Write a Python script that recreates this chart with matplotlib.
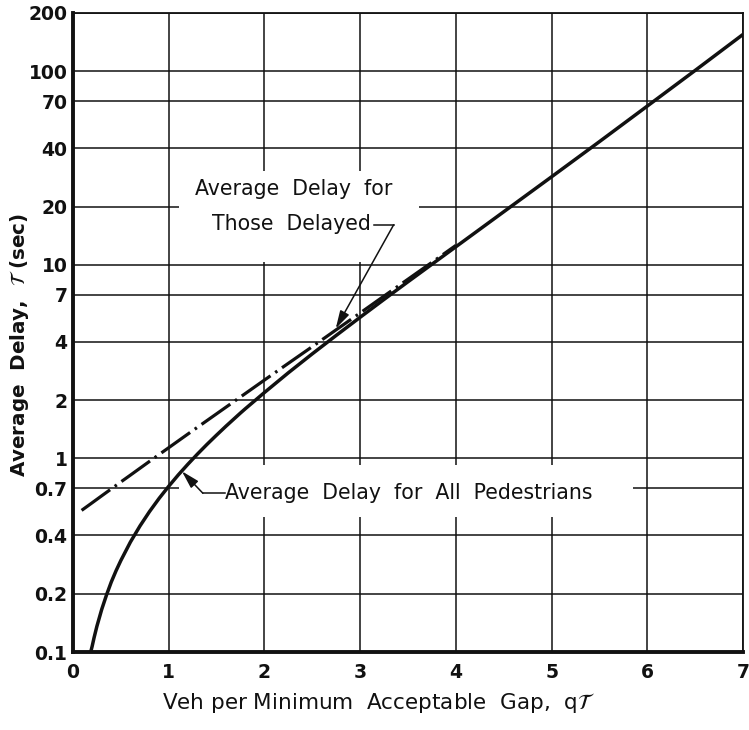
import matplotlib
matplotlib.use("Agg")
import matplotlib.pyplot as plt
from matplotlib.patches import Rectangle

# ---- data ----
x_all = [0.185, 0.2, 0.22, 0.25, 0.3, 0.35, 0.4, 0.45, 0.5, 0.6, 0.7, 0.8, 0.9,
         1.0, 1.1, 1.2, 1.3, 1.4, 1.5, 1.6, 1.75, 1.8, 2.0, 2.25, 2.5, 2.75,
         3.0, 3.25, 3.5, 3.75, 4.0, 4.5, 5.0, 5.5, 6.0, 6.5, 7.0]
y_all = [0.100, 0.107, 0.1185, 0.136, 0.166, 0.197, 0.230, 0.263, 0.297, 0.370,
         0.448, 0.532, 0.622, 0.718, 0.822, 0.933, 1.053, 1.182, 1.32, 1.47,
         1.717, 1.805, 2.19, 2.77, 3.47, 4.32, 5.36, 6.63, 8.18, 10.07, 12.4,
         18.8, 28.5, 43.3, 66.1, 101, 155]

x_delayed = [0.09, 0.2, 0.3, 0.4, 0.5, 0.6, 0.7, 0.8, 0.9, 1.0, 1.1, 1.2, 1.3,
             1.4, 1.5, 1.75, 2.0, 2.25, 2.5, 2.75, 3.0, 3.25, 3.5, 3.75, 4.0]
y_delayed = [0.539, 0.590, 0.641, 0.696, 0.756, 0.820, 0.890, 0.966, 1.048,
             1.136, 1.232, 1.336, 1.448, 1.569, 1.70, 2.078, 2.54, 3.10, 3.78,
             4.62, 5.64, 6.90, 8.43, 10.3, 12.6]

x_ticks = [0, 1, 2, 3, 4, 5, 6, 7]
y_ticks = [0.1, 0.2, 0.4, 0.7, 1, 2, 4, 7, 10, 20, 40, 70, 100, 200]
y_ticklabels = ["0.1", "0.2", "0.4", "0.7", "1", "2", "4", "7", "10", "20",
                "40", "70", "100", "200"]

# ---- figure ----
fig = plt.figure(figsize=(7.49, 7.30), dpi=100)
ax = fig.add_axes([73/749, 1-652/730, (743-73)/749, (652-13)/730])
ax.set_yscale("log")
ax.set_xlim(0, 7)
ax.set_ylim(0.1, 200)

ink = "#111111"
for xv in x_ticks:
    ax.axvline(xv, color=ink, lw=1.1, zorder=1)
for yv in y_ticks:
    ax.axhline(yv, color=ink, lw=1.1, zorder=1)

# white masks behind labels
ax.add_patch(Rectangle((1.106, 10.3), 3.61-1.106, 30.6-10.3, facecolor="white",
                       edgecolor="none", zorder=2))
ax.add_patch(Rectangle((1.106, 0.497), 5.85-1.106, 0.921-0.497, facecolor="white",
                       edgecolor="none", zorder=2))

ax.plot(x_all, y_all, color=ink, lw=2.5, zorder=4, solid_capstyle="butt",
        solid_joinstyle="round")
ax.plot(x_delayed, y_delayed, color=ink, lw=2.3, zorder=4,
        dashes=(11, 1.8, 0.8, 1.8), dash_capstyle="butt")

ax.set_xticks(x_ticks)
ax.set_xticklabels([str(v) for v in x_ticks])
ax.set_yticks(y_ticks)
ax.set_yticklabels(y_ticklabels)
ax.minorticks_off()
ax.tick_params(axis="both", length=0, labelsize=13.5, colors=ink)
ax.tick_params(axis="y", pad=4)
ax.tick_params(axis="x", pad=8)
for lab in ax.get_xticklabels() + ax.get_yticklabels():
    lab.set_fontweight("bold")

for s in ["left", "bottom"]:
    ax.spines[s].set_linewidth(2.8)
    ax.spines[s].set_color(ink)
for s in ["top", "right"]:
    ax.spines[s].set_linewidth(1.3)
    ax.spines[s].set_color(ink)

# labels
fs_ann = 14.8
ax.text(2.31, 24.7, "Average  Delay  for", ha="center", va="center",
        fontsize=fs_ann, color=ink, zorder=5)
ax.text(2.28, 16.3, "Those  Delayed", ha="center", va="center",
        fontsize=fs_ann, color=ink, zorder=5)
ax.plot([3.14, 3.35], [16.1, 16.1], color=ink, lw=1.1, zorder=5)
ax.annotate("", xy=(2.745, 4.69), xytext=(3.35, 16.1),
            arrowprops=dict(arrowstyle="-|>,head_length=0.9,head_width=0.25",
                            color=ink, lw=1.1,
                            mutation_scale=12, shrinkA=0, shrinkB=0), zorder=5)

ax.text(1.59, 0.661, "Average  Delay  for  All  Pedestrians", ha="left",
        va="center", fontsize=fs_ann, color=ink, zorder=5)
ax.plot([1.59, 1.357], [0.661, 0.661], color=ink, lw=1.1, zorder=5)
ax.annotate("", xy=(1.138, 0.858), xytext=(1.357, 0.661),
            arrowprops=dict(arrowstyle="-|>,head_length=0.9,head_width=0.25",
                            color=ink, lw=1.1,
                            mutation_scale=12, shrinkA=0, shrinkB=0), zorder=5)

fig.text(378/749, 1-703/730, r"Veh per Minimum  Acceptable  Gap,  q$\mathcal{T}$",
         ha="center", va="center", fontsize=15.5, color=ink)
fig.text(20/749, 1-345/730, r"Average  Delay,  $\mathcal{T}$ (sec)",
         ha="center", va="center", rotation=90, fontsize=14.3, color=ink,
         fontweight="bold")

fig.savefig("out.png", dpi=100, facecolor="white")
